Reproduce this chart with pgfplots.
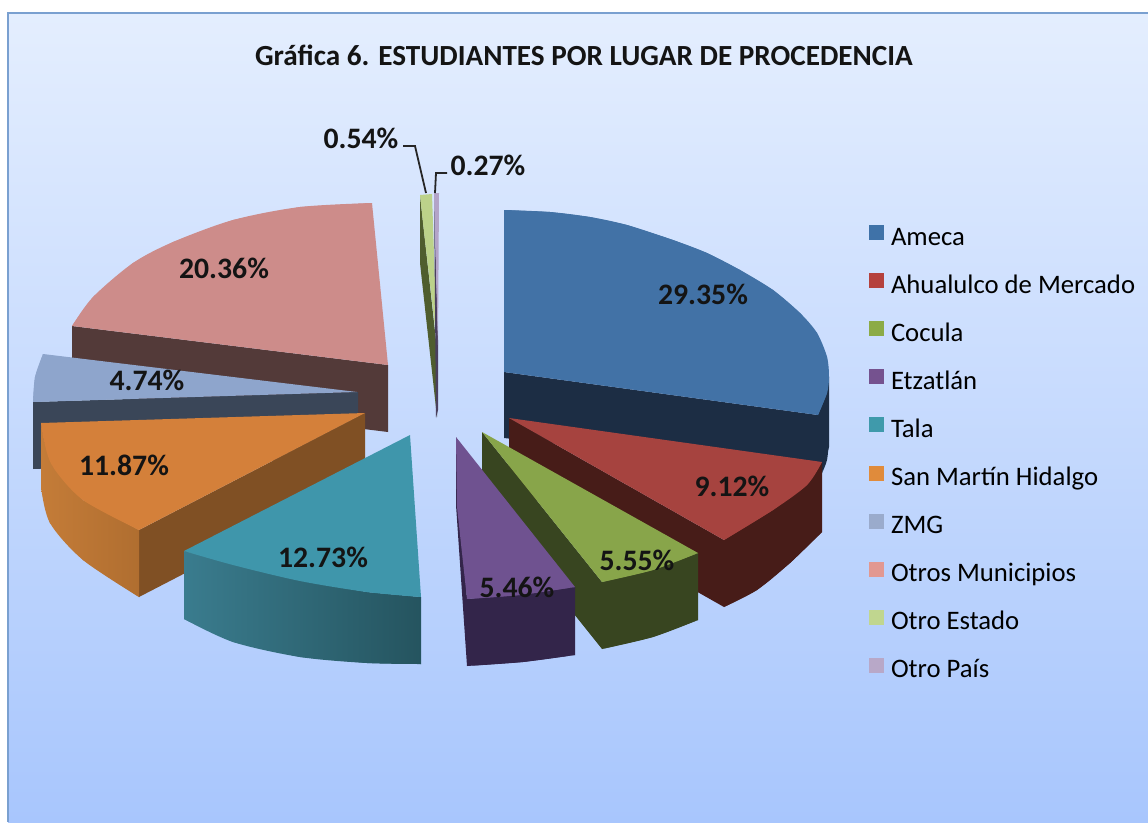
\documentclass[border=0pt]{standalone}
\usepackage{pgfplots}
\pgfplotsset{compat=1.18}
\usepackage{fontspec}
\setmainfont{Carlito}
\definecolor{lgA}{HTML}{3F72A8}\definecolor{lgB}{HTML}{B5413D}\definecolor{lgC}{HTML}{8CAB46}
\definecolor{lgD}{HTML}{75528F}\definecolor{lgE}{HTML}{3F9AAB}\definecolor{lgF}{HTML}{E08B3B}
\definecolor{lgG}{HTML}{9AABCC}\definecolor{lgH}{HTML}{E29891}\definecolor{lgI}{HTML}{C0D68F}\definecolor{lgJ}{HTML}{B8A8C8}
\definecolor{pA}{RGB}{66,114,166}\definecolor{dA}{RGB}{28,45,68}
\definecolor{pB}{RGB}{166,67,63}\definecolor{dB}{RGB}{71,28,24}
\definecolor{pC}{RGB}{136,165,74}\definecolor{dC}{RGB}{56,69,32}
\definecolor{pD}{RGB}{111,82,144}\definecolor{dD}{RGB}{51,37,74}
\definecolor{pE}{RGB}{63,150,171}\definecolor{sE}{RGB}{58,124,142}\definecolor{dE}{RGB}{37,84,95}
\definecolor{pF}{RGB}{212,128,58}\definecolor{sF}{RGB}{196,124,56}\definecolor{tF}{RGB}{176,110,48}\definecolor{dF}{RGB}{128,80,36}
\definecolor{pG}{RGB}{142,165,204}\definecolor{dG}{RGB}{58,70,88}
\definecolor{pH}{RGB}{205,140,138}\definecolor{dH}{RGB}{83,58,57}
\definecolor{pI}{RGB}{188,210,138}\definecolor{dI}{RGB}{79,93,46}
\definecolor{pJ}{RGB}{179,164,200}\definecolor{dJ}{RGB}{74,63,94}
\newcommand\face[2]{\addplot[forget plot,draw=none,fill={#1}] coordinates {#2} --cycle;}
\newcommand\arcface[2]{\addplot[forget plot,draw=none,fill={#1},smooth] coordinates {#2} --cycle;}
\newcommand\shadeface[3]{\addplot[forget plot,draw=none,left color={#1},right color={#2}] coordinates {#3} --cycle;}
\newcommand\shadearc[3]{\addplot[forget plot,draw=none,left color={#1},right color={#2},smooth] coordinates {#3} --cycle;}
\newcommand\lab[3]{\node[font=\fontsize{29.7}{30}\selectfont\bfseries,text=black!92] at (axis cs:#1,#2) {#3};}
\begin{document}
\begin{tikzpicture}
\begin{axis}[
  scale only axis, width=1148pt, height=822pt,
  xmin=0, xmax=1148, ymin=0, ymax=822, y dir=reverse,
  hide axis, clip=true,
  legend style={at={(axis cs:869,225)},anchor=north west,draw=none,fill=none,
    font=\fontsize{26.7}{27}\selectfont,row sep=23.1pt,inner sep=0pt,outer sep=0pt,
    nodes={inner sep=0pt,anchor=base west,text height=17pt,text depth=5pt},
    /tikz/every odd column/.append style={column sep=7pt}},
  legend cell align=left,
  legend image code/.code={\path[#1,draw=none] (0pt,5pt) rectangle (15pt,20pt);},
]
% background
\face{white}{(0,0)(1148,0)(1148,822)(0,822)}
\addplot[forget plot,draw=none,top color={rgb,255:red,228;green,238;blue,254},bottom color={rgb,255:red,168;green,198;blue,253}] coordinates {(8,13)(1148,13)(1148,822)(8,822)} --cycle;
\addplot[forget plot,draw={rgb,255:red,122;green,160;blue,208},line width=2.6pt] coordinates {(8,822)(8,13)(1148,13)};
% Otros Municipios 20.36
\face{dH}{(72,326)(388,365)(388,432)(72,393)}
\face{pH}{(72,326)(93,297)(133,263)(173,242)(233,220)(300,207)(372,203)(388,365)}
\arcface{pH}{(72,326)(93,297)(133,263)(173,242)(233,220)(300,207)(372,203)}
% ZMG 4.74
\face{dG}{(33,402)(358,392)(358,458)(33,469)}
\face{pG}{(43,354)(357,392)(33,402)(35,377)}
\arcface{pG}{(43,354)(35,377)(33,402)}
% San Martin 11.87
\face{dF}{(365,413)(139,530)(139,597)(365,480)}
\shadeface{sF}{tF}{(41,423)(44,441)(53,467)(83,500)(139,530)(139,597)(83,560)(50,523)(41,487)}
\shadearc{sF}{tF}{(41,487)(50,523)(83,560)(139,597)}
\face{pF}{(41,423)(365,413)(139,530)(83,500)(53,467)(44,441)}
\arcface{pF}{(41,423)(44,441)(53,467)(83,500)(139,530)}
% Otro Estado 0.54
\face{dI}{(420,195)(420,263)(437,417)(437,350)}
\face{pI}{(420,195)(432,194)(437,345)(424,232)}
% Otro Pais 0.27
\face{dJ}{(434,193)(438,340)(438,410)(436,418)}
\face{pJ}{(434,193)(439,193)(438,345)}
% Tala 12.73
\shadeface{sE}{dE}{(184,551)(233,563)(300,580)(367,592)(421,597)(421,664)(367,663)(300,657)(233,642)(184,619)}
\shadearc{sE}{dE}{(184,619)(233,642)(300,657)(367,663)(421,664)}
\face{pE}{(410,435)(421,597)(367,592)(300,580)(233,563)(184,551)}
\arcface{pE}{(184,551)(233,565)(300,581)(367,592)(421,597)}
% Ameca 29.35
\face{dA}{(504,372)(818,415)(829,377)(829,447)(822,473)(504,438)}
\arcface{dA}{(829,440)(827,460)(822,473)}
\face{pA}{(504,210)(550,212)(590,217)(627,225)(673,240)(707,253)(740,270)(773,290)(800,313)(817,333)(827,357)(829,377)(827,393)(818,415)(504,372)}
\arcface{pA}{(504,210)(550,212)(590,217)(627,225)(673,240)(707,253)(740,270)(773,290)(800,313)(817,333)(827,357)(829,377)(827,393)(818,415)}
% Ahualulco 9.12
\face{dB}{(509,418)(724,540)(822,462)(822,532)(790,563)(757,590)(724,607)(509,485)}
\arcface{dB}{(822,532)(790,563)(757,590)(724,607)}
\face{pB}{(509,418)(822,462)(807,485)(773,510)(724,540)}
\arcface{pB}{(822,462)(807,485)(773,510)(724,540)}
% Cocula 5.55
\face{dC}{(482,432)(602,582)(698,553)(698,620)(653,637)(602,649)(482,499)}
\arcface{dC}{(698,620)(653,637)(602,649)}
\face{pC}{(482,432)(698,553)(653,570)(602,582)}
\arcface{pC}{(698,553)(653,570)(602,582)}
% Etzatlan 5.46
\face{dD}{(456,437)(456,505)(467,666)(523,662)(575,655)(575,587)(467,599)}
\arcface{dD}{(575,655)(523,662)(467,666)}
\face{pD}{(456,437)(575,587)(520,595)(467,599)(457,507)}
\arcface{pD}{(575,587)(520,595)(467,599)}
% leaders
\addplot[forget plot,draw=black!85,line width=1.8pt] coordinates {(403,146)(415,146)(426,193)};
\addplot[forget plot,draw=black!85,line width=1.8pt] coordinates {(447,173)(436,173)(435,193)};
% legend
\addlegendimage{fill=lgA}\addlegendentry{Ameca}
\addlegendimage{fill=lgB}\addlegendentry{Ahualulco de Mercado}
\addlegendimage{fill=lgC}\addlegendentry{Cocula}
\addlegendimage{fill=lgD}\addlegendentry{Etzatlán}
\addlegendimage{fill=lgE}\addlegendentry{Tala}
\addlegendimage{fill=lgF}\addlegendentry{San Martín Hidalgo}
\addlegendimage{fill=lgG}\addlegendentry{ZMG}
\addlegendimage{fill=lgH}\addlegendentry{Otros Municipios}
\addlegendimage{fill=lgI}\addlegendentry{Otro Estado}
\addlegendimage{fill=lgJ}\addlegendentry{Otro País}
% labels
\node[font=\fontsize{29.2}{30}\selectfont\bfseries,text=black!92] at (axis cs:584,55) {Gráfica 6. ESTUDIANTES POR LUGAR DE PROCEDENCIA};
\lab{703}{294}{29.35\%}
\lab{732}{486}{9.12\%}
\lab{637}{560}{5.55\%}
\lab{517}{587}{5.46\%}
\lab{323}{557}{12.73\%}
\lab{124}{465}{11.87\%}
\lab{147}{380}{4.74\%}
\lab{224}{268}{20.36\%}
\lab{361}{138}{0.54\%}
\lab{488}{165}{0.27\%}
\end{axis}
\end{tikzpicture}
\end{document}
